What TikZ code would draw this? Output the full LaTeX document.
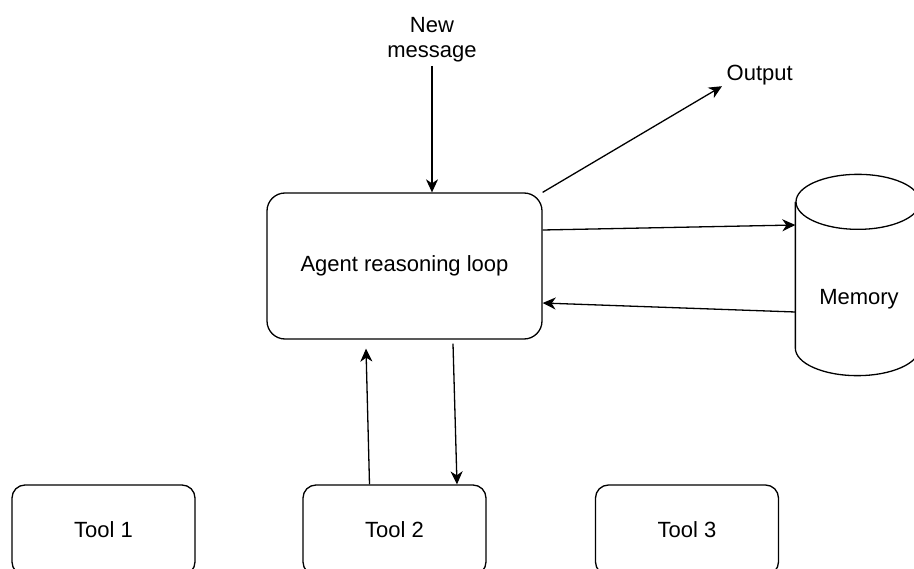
\documentclass[tikz,border=0pt]{standalone}
\usepackage{fontspec}
\setmainfont{Liberation Sans}
\usetikzlibrary{arrows.meta}
\begin{document}
\begin{tikzpicture}[x=1pt,y=-1pt,
  line width=1.3pt,
  every node/.style={font=\fontsize{22}{25}\selectfont},
  box/.style={draw, rounded corners=#1, inner sep=0pt},
  box/.default=13pt,
  arr/.style={-{Stealth[length=13pt,width=12pt,inset=4pt]}},
  lbl/.style={inner sep=0pt}]
\useasboundingbox (0,0) rectangle (914,569);
\clip (0,0) rectangle (914,569);

% main box
\node[box=18pt, minimum width=275pt, minimum height=146pt] (agent) at (404.5,266) {Agent reasoning loop};

% tools (cut by the lower edge)
\node[box, minimum width=183pt, minimum height=90pt] (t1) at (103.5,530) {Tool 1};
\node[box, minimum width=183pt, minimum height=90pt] (t2) at (394.5,530) {Tool 2};
\node[box, minimum width=183pt, minimum height=90pt] (t3) at (687,530) {Tool 3};

% memory cylinder
\node[minimum width=124pt, minimum height=200pt, inner sep=0pt] (mem) at (858,275) {};
\node[lbl] (memtxt) at (859,299.5) {Memory};
\draw ([yshift=-27.5pt]mem.north west) -- ([yshift=27.5pt]mem.south west)
  arc[start angle=180, end angle=360, x radius=62pt, y radius=27.5pt]
  -- ([yshift=-27.5pt]mem.north east);
\draw ([yshift=-27.5pt]mem.north) ellipse [x radius=62pt, y radius=27.5pt];

% texts
\node[lbl, align=center, anchor=north] (nm) at (432,17) {New\\message};
\node[lbl, anchor=base west] (out) at (726,81) {Output};

% connectors
\draw[arr, shorten <=3pt] (nm.south) -- (nm.south |- agent.north);
\draw[arr] (agent.north east) -- ([xshift=-4pt]out.south west);
\draw[arr] ([yshift=36pt]agent.east) -- ([yshift=50pt]mem.west);
\draw[arr] ([yshift=-37pt]mem.west) -- ([yshift=-37pt]agent.east);
\draw[arr] ([xshift=-25pt]t2.north) -- ([xshift=-38.5pt,yshift=-9pt]agent.south);
\draw[arr] ([xshift=48.5pt,yshift=-4pt]agent.south) -- ([xshift=62.5pt]t2.north);
\end{tikzpicture}
\end{document}
